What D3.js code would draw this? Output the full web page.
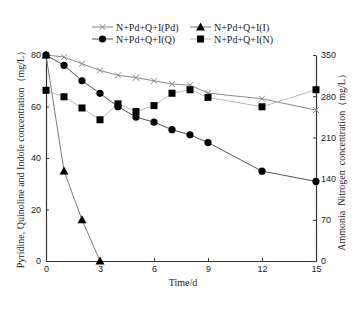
<!DOCTYPE html>
<html>
<head>
<meta charset="utf-8">
<script src="https://cdn.jsdelivr.net/npm/d3@7"></script>
<style>
  body { margin: 0; background: #fff; }
  svg text { fill: #222; }
</style>
</head>
<body>
<div id="chart"></div>
<script>
// data
const daysPd = [0, 1, 2, 3, 4, 5, 6, 7, 8, 9, 12, 15];
const pd = [80, 79.2, 76.6, 74.0, 72.1, 71.2, 70.0, 68.7, 68.3, 65.2, 63.0, 58.6];

const daysQ = [0, 1, 2, 3, 4, 5, 6, 7, 8, 9, 12, 15];
const q = [80, 76.0, 70.0, 65.1, 59.9, 55.9, 53.9, 51.0, 49.0, 46.0, 34.9, 30.9];

const daysI = [0, 1, 2, 3];
const indole = [80, 35, 16, 0];

// ammonia nitrogen, right axis
const daysN = [0, 1, 2, 3, 4, 5, 6, 7, 8, 9, 12, 15];
const nh = [290, 279, 260, 240, 267, 254, 264, 285, 291, 278, 262, 291];

const xTicks = [0, 3, 6, 9, 12, 15];
const yLeftTicks = [0, 20, 40, 60, 80];
const yRightTicks = [0, 70, 140, 210, 280, 350];

const W = 364, H = 309;
const plotL = 46, plotR = 316, plotT = 55, plotB = 261;

const svg = d3.select("#chart").append("svg")
  .attr("width", W).attr("height", H);

const x = d3.scaleLinear().domain([0, 15]).range([plotL, plotR]);
const yL = d3.scaleLinear().domain([0, 80]).range([plotB, plotT]);
const yR = d3.scaleLinear().domain([0, 350]).range([plotB, plotT]);

const tickFont = "'Liberation Sans', Arial, sans-serif";
const serif = "'Liberation Serif', 'Times New Roman', serif";

// axes
const gx = svg.append("g")
  .attr("transform", `translate(0,${plotB})`)
  .call(d3.axisBottom(x).tickValues(xTicks).tickSizeInner(-3).tickSizeOuter(0).tickPadding(5));
const gl = svg.append("g")
  .attr("transform", `translate(${plotL},0)`)
  .call(d3.axisLeft(yL).tickValues(yLeftTicks).tickSizeInner(-3).tickSizeOuter(0).tickPadding(5));
const gr = svg.append("g")
  .attr("transform", `translate(${plotR},0)`)
  .call(d3.axisRight(yR).tickValues(yRightTicks).tickSizeInner(-3).tickSizeOuter(0).tickPadding(5));

[gx, gl, gr].forEach(g => {
  g.select(".domain").attr("stroke", "#333").attr("stroke-width", 1.2);
  g.selectAll(".tick line").attr("stroke", "#333");
  g.selectAll("text").style("font-family", tickFont).style("font-size", "9px").attr("fill", "#333");
});

// axis titles
svg.append("text")
  .attr("transform", `translate(24,157) rotate(-90)`)
  .attr("text-anchor", "middle")
  .style("font-family", serif).style("font-size", "10px")
  .text("Pyridine, Quinoline and Indole concentration（mg/L）");

svg.append("text")
  .attr("transform", `translate(345,160) rotate(-90)`)
  .attr("text-anchor", "middle")
  .style("font-family", serif).style("font-size", "10px")
  .style("white-space", "pre")
  .text("Ammonia  Nitrogen  concentration（mg/L）");

svg.append("text")
  .attr("x", 183).attr("y", 286)
  .attr("text-anchor", "middle")
  .style("font-family", serif).style("font-size", "10px")
  .text("Time/d");

// series
const series = [
  { name: "N+Pd+Q+I(Pd)", days: daysPd, vals: pd, y: yL, line: "#8a8a8a", mark: "x" },
  { name: "N+Pd+Q+I(I)", days: daysI, vals: indole, y: yL, line: "#777", mark: "tri" },
  { name: "N+Pd+Q+I(Q)", days: daysQ, vals: q, y: yL, line: "#555", mark: "circle" },
  { name: "N+Pd+Q+I(N)", days: daysN, vals: nh, y: yR, line: "#b8b8b8", mark: "square" }
];

function drawMarker(g, type, cx, cy) {
  if (type === "x") {
    g.append("path")
      .attr("d", `M${cx - 3},${cy - 3}L${cx + 3},${cy + 3}M${cx - 3},${cy + 3}L${cx + 3},${cy - 3}`)
      .attr("stroke", "#888").attr("stroke-width", 1).attr("fill", "none");
  } else if (type === "circle") {
    g.append("circle").attr("cx", cx).attr("cy", cy).attr("r", 3.6).attr("fill", "#000");
  } else if (type === "square") {
    g.append("rect").attr("x", cx - 3.5).attr("y", cy - 3.5)
      .attr("width", 7).attr("height", 7).attr("fill", "#000");
  } else if (type === "tri") {
    g.append("path")
      .attr("d", `M${cx},${cy - 4.5}L${cx + 4.5},${cy + 3.5}L${cx - 4.5},${cy + 3.5}Z`)
      .attr("fill", "#000");
  }
}

series.forEach(s => {
  const pts = s.days.map((d, i) => [x(d), s.y(s.vals[i])]);
  svg.append("path")
    .attr("d", d3.line()(pts))
    .attr("fill", "none")
    .attr("stroke", s.line)
    .attr("stroke-width", 1);
});
series.forEach(s => {
  const g = svg.append("g");
  s.days.forEach((d, i) => drawMarker(g, s.mark, x(d), s.y(s.vals[i])));
});

// legend
const legendPos = [
  { s: series[0], lx: 92, ly: 27 },
  { s: series[1], lx: 190, ly: 27 },
  { s: series[2], lx: 92, ly: 39 },
  { s: series[3], lx: 190, ly: 39 }
];
legendPos.forEach(p => {
  const g = svg.append("g");
  g.append("line")
    .attr("x1", p.lx).attr("x2", p.lx + 21)
    .attr("y1", p.ly).attr("y2", p.ly)
    .attr("stroke", p.s.line).attr("stroke-width", 1);
  drawMarker(g, p.s.mark, p.lx + 10.5, p.ly);
  g.append("text")
    .attr("x", p.lx + 24).attr("y", p.ly + 3.5)
    .style("font-family", serif).style("font-size", "10px")
    .text(p.s.name);
});
</script>
</body>
</html>
